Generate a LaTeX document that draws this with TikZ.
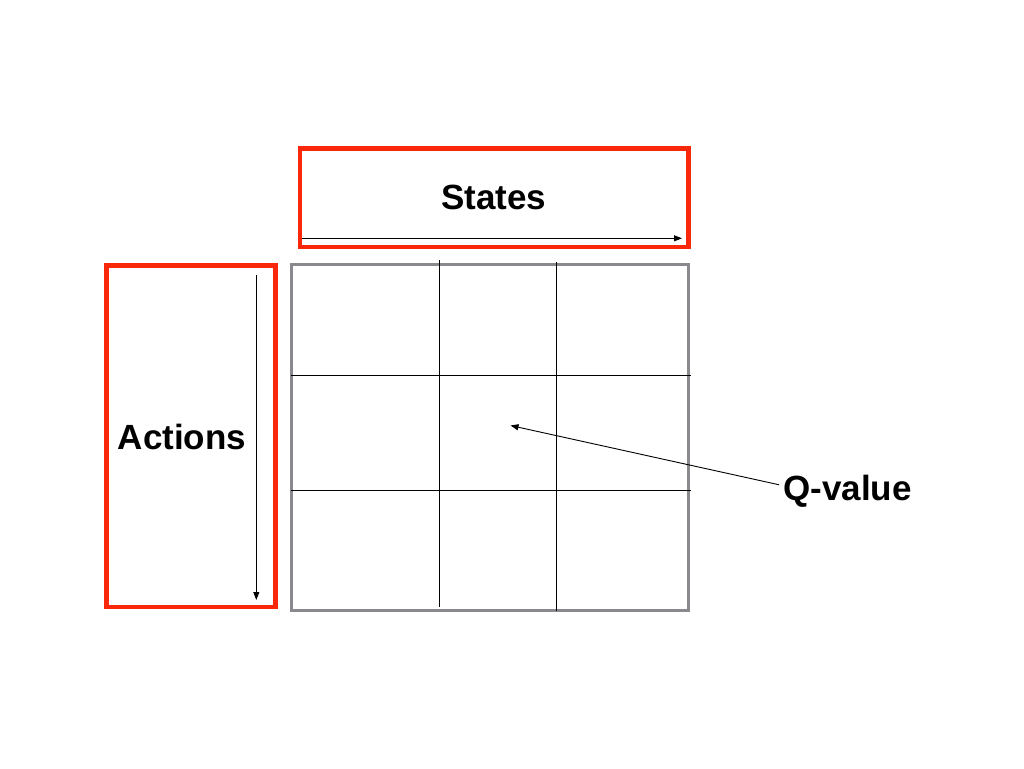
\documentclass[tikz,border=0pt]{standalone}
\usepackage{fontspec}
\setmainfont{Liberation Sans}
\usetikzlibrary{arrows.meta,positioning}
\definecolor{boxred}{RGB}{250,40,10}
\definecolor{gridgray}{RGB}{136,138,142}

\begin{document}
\begin{tikzpicture}[x=1pt,y=-1pt, every node/.style={font=\fontsize{35}{42}\selectfont\bfseries, inner sep=4pt},
    redbox/.style={draw=boxred, line width=4.6pt, rectangle, inner sep=0pt},
    axisarrow/.style={-{Triangle[length=8pt,width=6pt]}, line width=0.9pt},
    gridline/.style={line width=0.9pt}]
    \useasboundingbox (0,0) rectangle (1024,768);
    % red boxes for the two axes
    \node[redbox, minimum width=388.7pt, minimum height=98.6pt] (statebox) at (494.2,197.5) {};
    \node[redbox, minimum width=169pt, minimum height=341.7pt] (actbox) at (191,436.2) {};
    \node[anchor=base] (states) at (493.7,209.5) {States};
    \node[anchor=base] (actions) at (182,449.5) {Actions};
    \coordinate (s0) at (302.3,238.3);
    \coordinate (s1) at (682,238.3);
    \coordinate (a0) at (256.3,275);
    \coordinate (a1) at (256.3,600);
    \draw[axisarrow] (s0) -- (s1);
    \draw[axisarrow] (a0) -- (a1);
    % the Q-table
    \draw[gridgray, line width=3.2pt] (291.7,264.7) rectangle (688.3,610.3);
    \foreach \x/\ya/\yb in {439.3/260/607.3, 556.3/261.7/610.7}{
        \draw[gridline] (\x,\ya) -- (\x,\yb);
    }
    \foreach \y in {375.5,490}{\draw[gridline] (290.5,\y) -- (690.7,\y);}
    \coordinate (qcell) at (510.5,425.5);
    \node[anchor=base] (qval) at (847.5,500) {Q-value};
    \draw[axisarrow] (qval.175) -- (qcell);
\end{tikzpicture}
\end{document}
